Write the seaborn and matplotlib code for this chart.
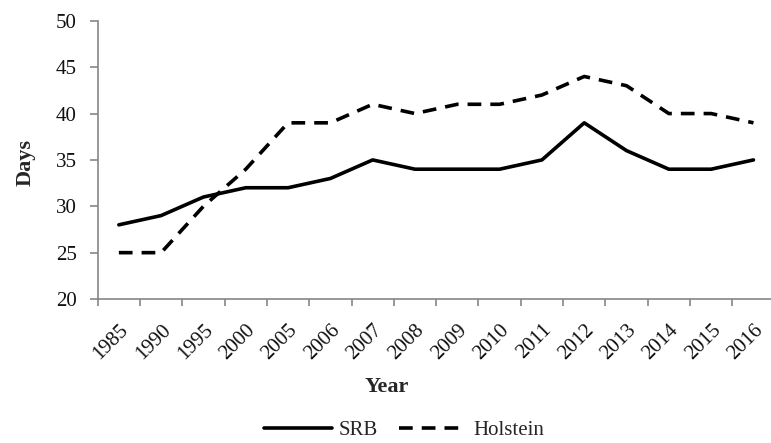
import pandas as pd
import numpy as np
import matplotlib
matplotlib.use('Agg')
import matplotlib.pyplot as plt
import seaborn as sns
from matplotlib.lines import Line2D

years = ['1985', '1990', '1995', '2000', '2005', '2006', '2007', '2008',
         '2009', '2010', '2011', '2012', '2013', '2014', '2015', '2016']
srb = [28, 29, 31, 32, 32, 33, 35, 34, 34, 34, 35, 39, 36, 34, 34, 35]
holstein = [25, 25, 30, 34, 39, 39, 41, 40, 41, 41, 42, 44, 43, 40, 40, 39]

data = pd.DataFrame({
    'Year': years * 2,
    'Days': srb + holstein,
    'Breed': ['SRB'] * len(years) + ['Holstein'] * len(years),
})

sns.set_style('white')
plt.rcParams['font.family'] = ['Liberation Serif', 'DejaVu Serif']

fig = plt.figure(figsize=(7.71, 4.43), dpi=100)
# plot area: left spine at ~98px, bottom at 299px, top (50) at 21px
ax = fig.add_axes([0.1267, 0.325, 0.878, 0.628])

lw = 2.6
dash = (3.8, 2.5)
sns.lineplot(data=data, x='Year', y='Days', hue='Breed', style='Breed',
             palette={'SRB': 'black', 'Holstein': 'black'},
             dashes={'SRB': '', 'Holstein': dash},
             linewidth=lw, legend=False, ax=ax)

gray = '#868686'
ax.set_ylim(20, 50)
ax.set_yticks(range(20, 51, 5))
ax.set_xlim(-0.5, len(years) - 0.5)
ax.set_xticks(range(len(years)))
ax.set_xticklabels(years, rotation=45, ha='right', rotation_mode='anchor')
ax.set_xticks(np.arange(-0.5, len(years), 1), minor=True)
ax.tick_params(axis='x', which='major', length=0, labelsize=15, pad=15.5, labelcolor='#111111')
ax.tick_params(axis='x', which='minor', length=5, color=gray, width=1.2, bottom=True)
ax.tick_params(axis='y', length=5.5, color=gray, width=1.2, labelsize=15, pad=9.5,
               left=True, labelcolor='#111111')

for side in ['top', 'right']:
    ax.spines[side].set_visible(False)
for side in ['left', 'bottom']:
    ax.spines[side].set_color(gray)
    ax.spines[side].set_linewidth(1.2)

ax.set_xlabel('Year', fontsize=16, fontweight='bold')
ax.xaxis.set_label_coords(0.427, -0.28)
ax.set_ylabel('Days', fontsize=16, fontweight='bold')
ax.yaxis.set_label_coords(-0.092, 0.49)

handles = [Line2D([], [], color='black', lw=lw),
           Line2D([], [], color='black', lw=lw, dashes=dash)]
fig.legend(handles, ['SRB', 'Holstein'], loc='center',
           bbox_to_anchor=(0.524, 0.028), ncol=2, frameon=False,
           fontsize=15, handlelength=3.3, handletextpad=0.3, columnspacing=1.0,
           borderpad=0, borderaxespad=0)

fig.savefig('out.png', dpi=100)
